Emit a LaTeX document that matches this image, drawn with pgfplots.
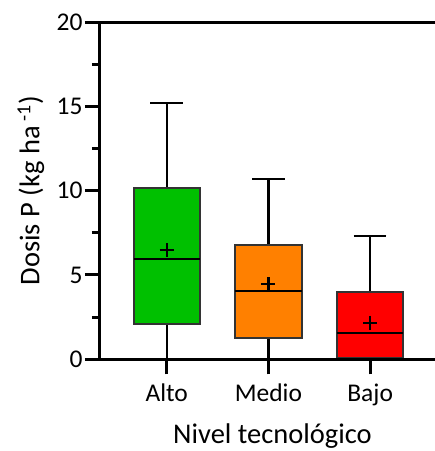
\documentclass[border=0pt]{standalone}
\usepackage{fontspec}
\setmainfont{Carlito}
\usepackage{pgfplots}
\pgfplotsset{compat=1.18}
\usepgfplotslibrary{statistics}

\definecolor{boxgreen}{RGB}{0,192,0}
\definecolor{boxorange}{RGB}{255,128,0}
\definecolor{boxred}{RGB}{255,0,0}

\begin{document}
\begin{tikzpicture}
\begin{axis}[
  scale only axis,
  width=345pt, height=337.3pt,
  at={(0,0)}, anchor=south west,
  xmin=0.3442, xmax=3.736,
  ymin=0, ymax=20,
  axis on top,
  xtick={1,2,3},
  xticklabels={Alto,Medio,Bajo},
  ytick={0,5,10,15,20},
  minor ytick={2.5,7.5,12.5,17.5},
  xtick pos=bottom, ytick pos=left,
  tick align=outside,
  major tick length=15pt,
  minor tick length=8pt,
  every tick/.style={line width=3pt, black},
  axis line style={line width=3pt},
  /pgf/number format/assume math mode=true,
  tick label style={font=\fontsize{25.5}{29}\selectfont},
  xticklabel style={anchor=base, yshift=-27.4pt},
  yticklabel style={anchor=east, xshift=1pt},
  label style={font=\fontsize{28.5}{32}\selectfont},
  xlabel={Nivel tecnológico},
  xlabel style={at={(axis description cs:0.5,-0.251)}, anchor=base},
  ylabel={Dosis P (kg ha\,\textsuperscript{-1})},
  ylabel style={at={(axis description cs:-0.2,0.5)}, anchor=center},
  boxplot/draw direction=y,
  boxplot/box extend=0.652,
  boxplot/whisker extend=0.32,
  boxplot/every box/.style={line width=2pt, draw=black!80},
  boxplot/every median/.style={line width=2pt, black},
  boxplot/every whisker/.style={line width=2.2pt, black},
]
% Alto
\addplot[fill=boxgreen, boxplot prepared={
  draw position=1,
  lower whisker=0, lower quartile=2.11, median=5.93,
  upper quartile=10.15, upper whisker=15.19}]
  coordinates {};
% Medio
\addplot[fill=boxorange, boxplot prepared={
  draw position=2,
  lower whisker=0, lower quartile=1.28, median=4.05,
  upper quartile=6.78, upper whisker=10.69}]
  coordinates {};
% Bajo
\addplot[fill=boxred, boxplot prepared={
  draw position=3,
  lower whisker=0, lower quartile=0.05, median=1.58,
  upper quartile=3.97, upper whisker=7.33}]
  coordinates {};
% group means
\addplot[only marks, mark=+, mark size=7pt, line width=2.2pt, black]
  coordinates {(1,6.48) (2,4.46) (3,2.17)};
\end{axis}
\pgfresetboundingbox
\path[use as bounding box] (-100pt,-91.7pt) rectangle (335pt,359.3pt);
\end{tikzpicture}
\end{document}
